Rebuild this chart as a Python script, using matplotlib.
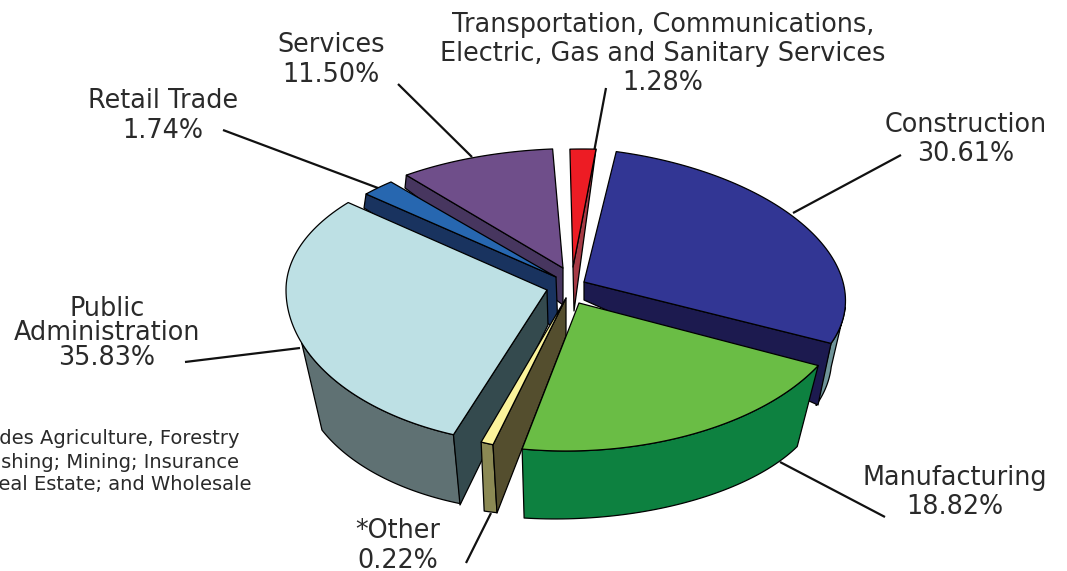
import numpy as np
import matplotlib
matplotlib.use("Agg")
import matplotlib.pyplot as plt
from matplotlib.patches import Polygon

categories = ["Construction", "Manufacturing", "*Other", "Public\nAdministration",
              "Retail Trade", "Services",
              "Transportation, Communications,\nElectric, Gas and Sanitary Services"]
values = [30.61, 18.82, 0.22, 35.83, 1.74, 11.50, 1.28]
footnote = ["*Includes Agriculture, Forestry", "and Fishing; Mining; Insurance",
            "and Real Estate; and Wholesale"]

# layout of the exploded, tilted pie (pixel space of the axes)
# apex, rx, ry_back, ry_front, shear, start angle, sweep stretch
geom = {
    "Construction": dict(a=(584, 282), rx=259, rb=135, rf=135, c=-36, t0=15, st=0.926),
    "Manufacturing": dict(a=(579, 303), rx=270, rb=135, rf=148, c=13, t0=115, st=1.098),
    "*Other": dict(a=(566, 298), rx=240, rb=135, rf=154, c=0, t0=197.7, st=3.79),
    "Public\nAdministration": dict(a=(547, 290), rx=261, rb=135, rf=155, c=0, t0=201, st=0.848),
    "Retail Trade": dict(a=(556, 277), rx=254, rb=125, rf=125, c=0, t0=311.6, st=1.26),
    "Services": dict(a=(563, 268), rx=265, rb=119.5, rf=119.5, c=13, t0=321, st=0.82),
    "Transportation, Communications,\nElectric, Gas and Sanitary Services":
        dict(a=(573, 267), rx=250, rb=118, rf=118, c=10, t0=357, st=1.30),
}
top_colors = ["#323694", "#6abd45", "#fbf39b", "#bde0e4", "#2767b0", "#6f4e8a", "#ed1c24"]
face_colors = ["#1c1a4f", None, "#544e2e", "#344a4e", "#19335f", "#47365f", "#a63a45"]
wall_colors = ["#6f9499", "#0d8140", "#8b8954", "#5f7173", None, None, None]
# radial face: which edge, bottom-of-apex, bottom-of-edge
faces = [("end", (584, 300), (818, 405)), None, ("start", (566, 336), (497, 513)),
         ("start", (548, 325), (460, 505)), ("start", (558, 330), (364, 208)),
         ("start", (563, 305), (405, 188)), ("end", (574, 311), (574, 311))]
# outer wall: top angle range fraction, bottom offsets, bulge
walls = [dict(ta=0.84, tb=1.0, off0=(-14, 60), off1=(-15, 62), bulge=(0, 0)),
         dict(ta=0.0, tb=1.0, off0=(-21, 81), off1=(2, 69), bulge=(0, 6)),
         dict(ta=0.0, tb=1.0, off0=(4, 68), off1=(3, 69), bulge=(0, 0)),
         None, None, None, None]
public_wall = dict(t_end=250, t_bot=245, off0=(7, 69), off1=(11.5, 74.5))
leaders = [((901, 155), (793, 213)), ((885, 517), (780, 462)), ((466, 563), (491, 513)),
           ((185, 362), (300, 348)), ((223, 130), (378, 188)), ((398, 84), (472, 157)),
           ((606, 88), (594, 152))]
# label centre x, centre y, line spacing
label_pos = [(966, 139.5, 1.18), (955, 492.5, 1.18), (398, 546, 1.2), (107, 333.5, 0.92),
             (163, 116, 1.22), (331, 60, 1.2), (663, 54, 1.13)]

FS = 18.4
plt.rcParams["font.family"] = ["DejaVu Sans"]
fig = plt.figure(figsize=(10.67, 5.71), dpi=100)
ax = fig.add_axes([0, 0, 1, 1])
ax.set_xlim(0, 1067)
ax.set_ylim(571, 0)
ax.axis("off")


def top(g, t):
    t = np.radians(np.asarray(t, float))
    co = np.cos(t)
    ry = np.where(co > 0, g["rb"], g["rf"])
    return np.column_stack([g["a"][0] + g["rx"] * np.sin(t) + g["c"] * co,
                            g["a"][1] - ry * co])


def poly(pts, color, z):
    ax.add_patch(Polygon(pts, closed=True, facecolor=color, edgecolor="black",
                         linewidth=0.9, joinstyle="round", zorder=z))


for (p, q) in leaders:
    ax.plot([p[0], q[0]], [p[1], q[1]], color="#111111", lw=1.6, zorder=1,
            solid_capstyle="butt")

order = ["Services", "Retail Trade",
         categories[6], "Construction", categories[3], "*Other", "Manufacturing"]
z = 2
for name in order:
    i = categories.index(name)
    g = geom[name]
    t0 = g["t0"]
    t1 = t0 + values[i] * 3.6 * g["st"]
    arc = top(g, np.linspace(t0, t1, 80))

    # outer wall
    w = walls[i]
    if w is not None:
        ta = t0 + (t1 - t0) * w["ta"]
        tb = t0 + (t1 - t0) * w["tb"]
        ts = np.linspace(ta, tb, 60)
        up = top(g, ts)
        f = np.linspace(0, 1, 60)[:, None]
        low = (up + (1 - f) * np.array(w["off0"]) + f * np.array(w["off1"])
               - 4 * f * (1 - f) * np.array(w["bulge"]))
        poly(np.vstack([up, low[::-1]]), wall_colors[i], z)
        z += 1
    if name == categories[3]:
        pw = public_wall
        up = top(g, np.linspace(t0, pw["t_end"], 60))
        ts = np.linspace(t0, pw["t_bot"], 50)
        f = np.linspace(0, 1, 50)[:, None]
        low = top(g, ts) + (1 - f) * np.array(pw["off0"]) + f * np.array(pw["off1"])
        poly(np.vstack([up, low[::-1]]), wall_colors[i], z)
        z += 1

    # radial face
    fc = faces[i]
    if fc is not None:
        edge = arc[0] if fc[0] == "start" else arc[-1]
        poly([g["a"], edge, fc[2], fc[1]], face_colors[i], z)
        z += 1

    # top
    poly(np.vstack([[g["a"]], arc]), top_colors[i], z)
    z += 1

for cat, v, (x, y, ls) in zip(categories, values, label_pos):
    ax.text(x, y, f"{cat}\n{v:.2f}%", ha="center", va="center", fontsize=FS,
            color="#2a2a2a", linespacing=ls, zorder=50)

for line, y in zip(footnote, (438, 462, 485)):
    ax.text(-57, y, line, ha="left", va="center", fontsize=14.0, color="#2a2a2a", zorder=50)

fig.savefig("out.png", dpi=100)
